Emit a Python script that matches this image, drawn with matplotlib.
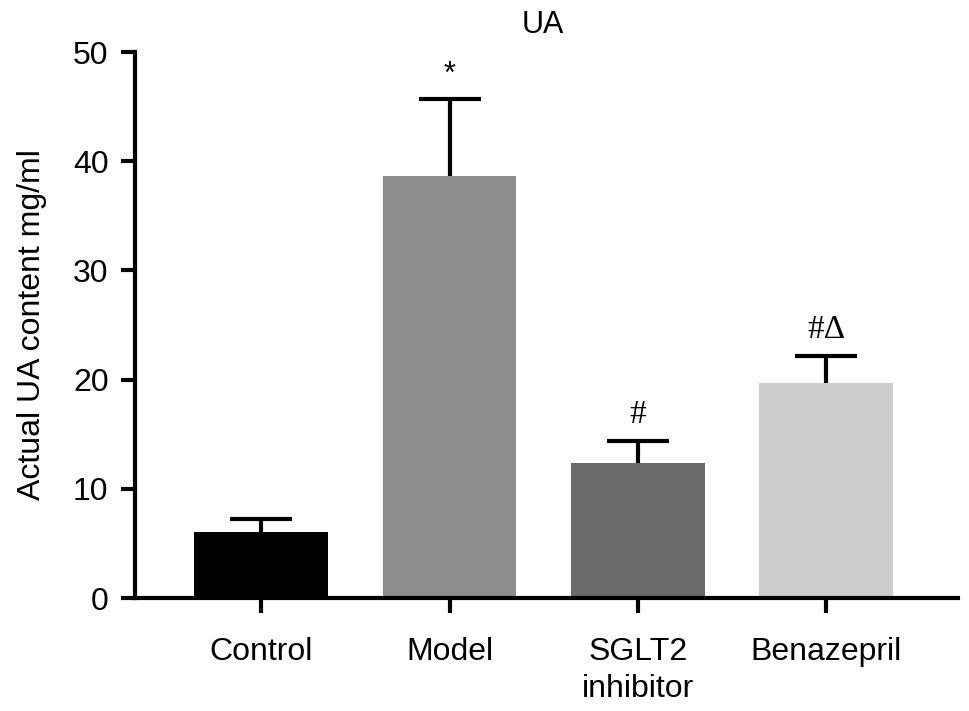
import numpy as np
import matplotlib
matplotlib.use('Agg')
import matplotlib.pyplot as plt

plt.rcParams['font.family'] = ['Liberation Sans', 'DejaVu Sans']

groups  = ['Control', 'Model', 'SGLT2\ninhibitor', 'Benazepril']
means   = [6.0, 38.6, 12.4, 19.7]
errs    = [1.2, 7.1, 2.0, 2.5]
colors  = ['#000000', '#8c8c8c', '#6a6a6a', '#cdcdcd']
marks   = ['', '*', '#', '#Δ']

fig = plt.figure(figsize=(9.69, 7.11), dpi=100)
ax = fig.add_axes([135/969, 1 - 598/711, (958-135)/969, 546/711])

x = np.arange(len(groups))
# symmetric error bars drawn behind the bars so only the upper half shows
ax.errorbar(x, means, yerr=errs, fmt='none', ecolor='black',
            elinewidth=3, capsize=22, capthick=3, zorder=1)
ax.bar(x, means, width=0.71, color=colors, zorder=2)

for xi, m, e, s in zip(x, means, errs, marks):
    if not s:
        continue
    if s == '*':
        ax.text(xi, m + e + 0.8, s, ha='center', va='bottom', fontsize=22)
    else:
        ax.text(xi, m + e + 1.0, s, ha='center', va='bottom', fontsize=24,
                family=['Liberation Serif', 'DejaVu Serif'])

ax.set_xlim(-0.67, 3.70)
ax.set_ylim(0, 50)
ax.set_yticks([0, 10, 20, 30, 40, 50])
ax.set_xticks(x)
ax.set_xticklabels(groups, fontsize=23, linespacing=1.3)
ax.tick_params(axis='y', labelsize=23, width=3, length=10, pad=9)
ax.tick_params(axis='x', width=3, length=11, pad=17)
for side in ['top', 'right']:
    ax.spines[side].set_visible(False)
for side in ['left', 'bottom']:
    ax.spines[side].set_linewidth(3)

ax.set_ylabel('Actual UA content mg/ml', fontsize=23, labelpad=19)
fig.text(543/969, 1 - 25/711, 'UA', ha='center', va='center', fontsize=22)

fig.savefig('out.png', dpi=100)
